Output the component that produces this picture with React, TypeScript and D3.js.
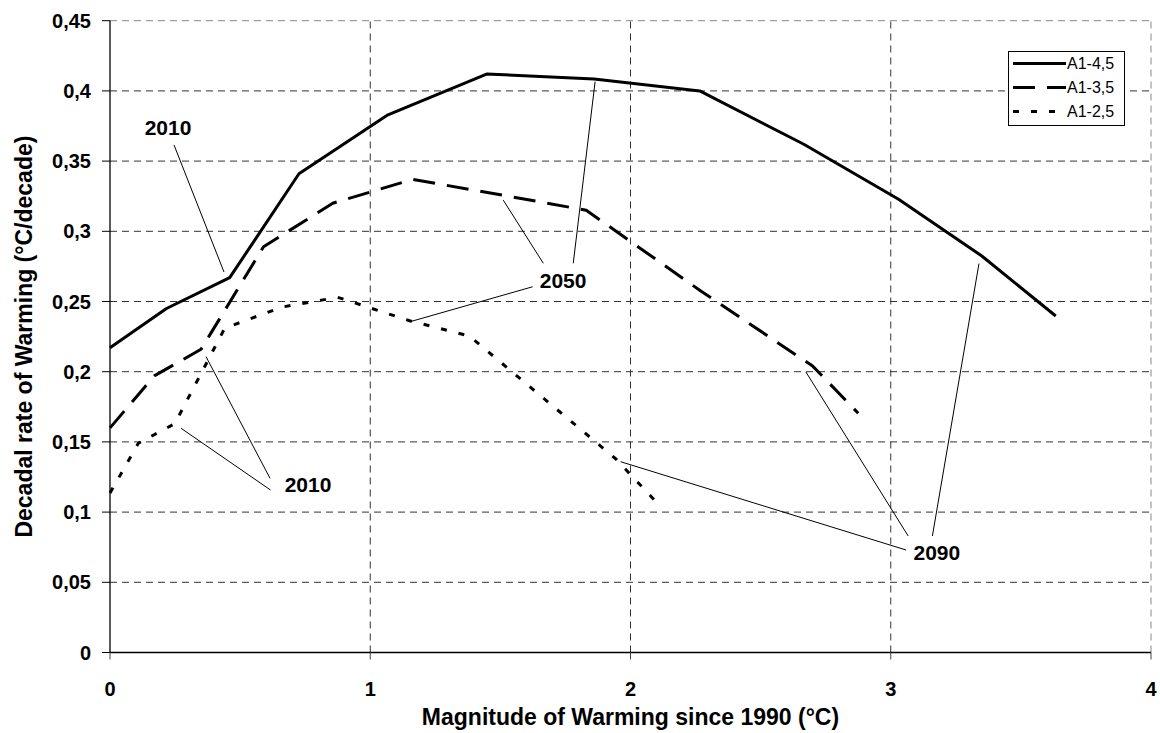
import * as d3 from "d3";

// series: A1-4,5 (solid), A1-3,5 (dashed), A1-2,5 (dotted)
const seriesNames = ["A1-4,5", "A1-3,5", "A1-2,5"];

const a45X = [0, 0.217, 0.46, 0.726, 1.068, 1.447, 1.86, 2.266, 2.666, 3.03, 3.35, 3.634];
const a45Y = [0.217, 0.245, 0.267, 0.341, 0.383, 0.412, 0.4085, 0.4, 0.362, 0.3228, 0.2824, 0.2397];

const a35X = [0, 0.17, 0.35, 0.59, 0.856, 1.163, 1.5, 1.83, 2.27, 2.7, 2.875];
const a35Y = [0.16, 0.197, 0.216, 0.289, 0.32, 0.337, 0.326, 0.315, 0.2575, 0.204, 0.1704];

const a25X = [0, 0.109, 0.249, 0.441, 0.66, 0.875, 1.151, 1.381, 1.943, 2.09];
const a25Y = [0.1136, 0.149, 0.163, 0.231, 0.246, 0.253, 0.2363, 0.2254, 0.138, 0.109];

const xTicks = [0, 1, 2, 3, 4];
const yTicks = [0, 0.05, 0.1, 0.15, 0.2, 0.25, 0.3, 0.35, 0.4, 0.45];
const yTickLabels = ["0", "0,05", "0,1", "0,15", "0,2", "0,25", "0,3", "0,35", "0,4", "0,45"];

// callouts: label position and leader lines, in data units
const labelText = ["2010", "2010", "2050", "2090"];
const labelX = [0.223, 0.761, 1.741, 3.177];
const labelY = [0.374, 0.12, 0.2653, 0.0709];
const leaders: [number, number, number, number][][] = [
  [[0.246, 0.3615, 0.438, 0.271]],
  [
    [0.617, 0.1157, 0.273, 0.1597],
    [0.615, 0.124, 0.369, 0.2107],
  ],
  [
    [1.665, 0.2772, 1.511, 0.3222],
    [1.78, 0.2772, 1.864, 0.4066],
    [1.624, 0.2605, 1.153, 0.2356],
  ],
  [
    [3.059, 0.073, 1.962, 0.1359],
    [3.067, 0.083, 2.674, 0.1998],
    [3.16, 0.083, 3.339, 0.277],
  ],
];

const W = 1160;
const H = 733;
const FONT = "'Liberation Sans', Arial, sans-serif";
const dashes = [null, "22,12", "6,12"];

export default function App() {
  const x = d3.scaleLinear().domain([0, 4]).range([110, 1151]);
  const y = d3.scaleLinear().domain([0, 0.45]).range([652.5, 20.7]);

  const line = d3
    .line<[number, number]>()
    .x((d) => x(d[0]))
    .y((d) => y(d[1]));

  const series = [
    a45X.map((v, i) => [v, a45Y[i]] as [number, number]),
    a35X.map((v, i) => [v, a35Y[i]] as [number, number]),
    a25X.map((v, i) => [v, a25Y[i]] as [number, number]),
  ];

  return (
    <div style={{ position: "absolute", left: 0, top: 0 }}>
      <svg width={W} height={H} style={{ display: "block", background: "#fff" }}>
        {/* grid */}
        {yTicks.map((t) => (
          <line
            key={"gy" + t}
            x1={x(0)}
            x2={x(4)}
            y1={y(t)}
            y2={y(t)}
            stroke={t === 0.45 ? "#888" : "#333"}
            strokeWidth={1}
            strokeDasharray="7,5"
          />
        ))}
        {xTicks.slice(1).map((t) => (
          <line
            key={"gx" + t}
            x1={x(t)}
            x2={x(t)}
            y1={y(0)}
            y2={y(0.45)}
            stroke={t === 4 ? "#888" : "#333"}
            strokeWidth={1}
            strokeDasharray="7,5"
          />
        ))}

        {/* axes */}
        <line x1={x(0)} x2={x(0)} y1={y(0)} y2={y(0.45)} stroke="#000" strokeWidth={1.3} />
        <line x1={x(0)} x2={x(4)} y1={y(0)} y2={y(0)} stroke="#000" strokeWidth={1.3} />
        {yTicks.map((t, i) => (
          <g key={"yt" + t}>
            <line x1={x(0) - 8} x2={x(0)} y1={y(t)} y2={y(t)} stroke="#000" strokeWidth={1} />
            <text
              x={x(0) - 19}
              y={y(t)}
              textAnchor="end"
              dominantBaseline="central"
              fontFamily={FONT}
              fontWeight="bold"
              fontSize={20}
            >
              {yTickLabels[i]}
            </text>
          </g>
        ))}
        {xTicks.map((t) => (
          <g key={"xt" + t}>
            <line x1={x(t)} x2={x(t)} y1={y(0)} y2={y(0) + 7} stroke="#444" strokeWidth={1} />
            <text
              x={x(t)}
              y={y(0) + 43}
              textAnchor="middle"
              fontFamily={FONT}
              fontWeight="bold"
              fontSize={20}
            >
              {t}
            </text>
          </g>
        ))}

        {/* axis titles */}
        <text
          x={x(2)}
          y={725}
          textAnchor="middle"
          fontFamily={FONT}
          fontWeight="bold"
          fontSize={23}
        >
          Magnitude of Warming since 1990 (°C)
        </text>
        <text
          transform={`translate(24, ${(y(0) + y(0.45)) / 2}) rotate(-90)`}
          textAnchor="middle"
          dominantBaseline="central"
          fontFamily={FONT}
          fontWeight="bold"
          fontSize={23}
        >
          Decadal rate of Warming (°C/decade)
        </text>

        {/* series */}
        {series.map((s, i) => (
          <path
            key={seriesNames[i]}
            d={line(s) || ""}
            fill="none"
            stroke="#000"
            strokeWidth={3}
            strokeDasharray={dashes[i] || undefined}
            strokeLinejoin="round"
          />
        ))}

        {/* callouts */}
        {leaders.map((group, gi) =>
          group.map((l, li) => (
            <line
              key={"ld" + gi + "-" + li}
              x1={x(l[0])}
              y1={y(l[1])}
              x2={x(l[2])}
              y2={y(l[3])}
              stroke="#000"
              strokeWidth={1}
            />
          ))
        )}
        {labelText.map((t, i) => (
          <text
            key={"lb" + i}
            x={x(labelX[i])}
            y={y(labelY[i])}
            textAnchor="middle"
            dominantBaseline="central"
            fontFamily={FONT}
            fontWeight="bold"
            fontSize={21}
          >
            {t}
          </text>
        ))}

        {/* legend */}
        <g>
          <rect x={1008.5} y={51.5} width={116} height={74} fill="#fff" stroke="#000" strokeWidth={1} />
          {seriesNames.map((n, i) => (
            <g key={"lg" + n}>
              <line
                x1={1013}
                x2={1066}
                y1={63.5 + i * 24}
                y2={63.5 + i * 24}
                stroke="#000"
                strokeWidth={3}
                strokeDasharray={dashes[i] || undefined}
              />
              <text
                x={1067}
                y={63.5 + i * 24}
                dominantBaseline="central"
                fontFamily={FONT}
                fontSize={16}
              >
                {n}
              </text>
            </g>
          ))}
        </g>
      </svg>
    </div>
  );
}
